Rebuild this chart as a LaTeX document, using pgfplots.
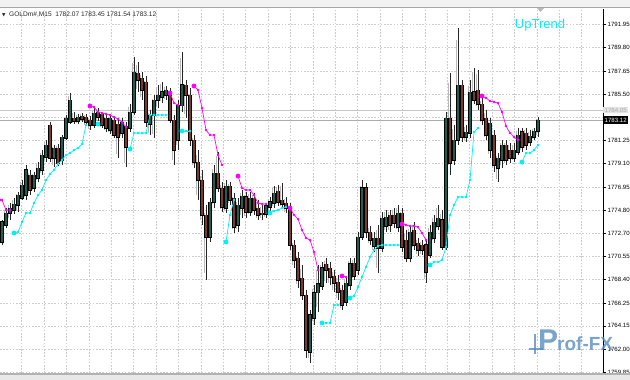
\documentclass[border=0pt]{standalone}
\usepackage{pgfplots}
\pgfplotsset{compat=1.18}
\usepackage{pgfplotstable}
\usepackage{fontspec}
\setmainfont{Liberation Sans}
\newfontfamily\dejavu{DejaVu Sans}
\definecolor{bull}{HTML}{1F5E50}
\definecolor{bear}{HTML}{7A3A30}
\definecolor{upc}{HTML}{00F0F8}
\definecolor{dnc}{HTML}{FF00FF}
\definecolor{logo}{HTML}{5B8CBD}

\pgfplotstableread{
x o h l c
0 1771.88 1773.91 1771.60 1773.72
1 1773.44 1775.01 1773.17 1774.55
2 1774.55 1775.47 1773.91 1775.01
3 1774.83 1775.93 1774.46 1775.38
4 1775.29 1776.49 1774.64 1776.21
5 1775.93 1777.59 1775.75 1777.13
6 1776.21 1778.98 1775.75 1778.52
7 1778.05 1778.52 1776.21 1776.67
8 1776.86 1778.33 1776.49 1778.05
9 1777.78 1779.25 1777.41 1778.70
10 1778.52 1780.36 1778.05 1779.90
11 1779.71 1781.28 1779.25 1780.82
12 1782.66 1782.94 1779.25 1779.62
13 1779.62 1780.82 1778.79 1780.54
14 1780.54 1780.91 1778.88 1779.16
15 1779.44 1781.74 1778.98 1781.56
16 1781.47 1783.59 1781.28 1783.31
17 1782.94 1785.62 1782.76 1784.97
18 1783.31 1783.86 1782.76 1783.03
19 1783.03 1783.68 1782.76 1783.40
20 1783.49 1783.77 1782.94 1783.22
21 1783.40 1783.68 1782.57 1782.94
22 1783.13 1783.49 1782.20 1782.66
23 1782.66 1784.23 1782.39 1783.77
24 1783.86 1784.23 1783.03 1783.40
25 1783.68 1783.86 1782.39 1782.66
26 1783.31 1783.59 1782.02 1782.39
27 1782.20 1783.59 1781.84 1783.31
28 1783.13 1783.40 1781.47 1781.74
29 1782.76 1783.13 1779.62 1781.56
30 1781.93 1783.31 1781.47 1782.94
31 1782.48 1782.94 1778.79 1780.64
32 1782.39 1784.60 1782.02 1783.86
33 1783.86 1788.93 1783.59 1787.55
34 1787.46 1788.47 1785.71 1786.81
35 1787.00 1787.55 1784.97 1785.89
36 1786.63 1787.18 1782.48 1782.94
37 1782.76 1784.05 1781.74 1783.59
38 1783.59 1785.43 1781.47 1784.97
39 1784.97 1786.35 1784.23 1785.43
40 1785.25 1786.63 1784.69 1785.71
41 1785.43 1786.26 1784.97 1785.89
42 1785.71 1786.08 1782.85 1783.13
43 1783.13 1783.59 1778.98 1780.36
44 1781.28 1784.97 1780.36 1784.51
45 1784.42 1789.40 1783.86 1786.35
46 1786.35 1786.81 1783.31 1785.43
47 1785.43 1786.08 1780.73 1781.28
48 1781.28 1781.74 1778.70 1779.25
49 1779.25 1780.36 1775.75 1777.59
50 1777.59 1778.52 1773.44 1774.37
51 1774.37 1775.29 1768.37 1772.34
52 1772.34 1775.93 1771.88 1775.57
53 1775.57 1778.98 1775.01 1778.24
54 1778.24 1780.18 1776.49 1776.86
55 1776.86 1777.41 1774.64 1775.10
56 1775.01 1777.59 1774.55 1777.04
57 1777.04 1777.41 1775.29 1775.75
58 1775.93 1776.40 1772.71 1773.26
59 1773.44 1775.93 1772.80 1775.29
60 1775.01 1776.67 1774.09 1776.12
61 1776.03 1776.49 1774.09 1774.64
62 1774.64 1776.49 1774.27 1775.93
63 1775.93 1776.40 1774.37 1774.83
64 1775.01 1775.75 1773.91 1774.37
65 1774.55 1775.29 1773.91 1774.46
66 1774.46 1775.47 1774.09 1775.20
67 1775.10 1776.03 1774.55 1775.57
68 1775.47 1777.04 1775.01 1776.40
69 1776.58 1777.13 1775.20 1775.57
70 1775.75 1777.32 1775.01 1775.38
71 1775.47 1776.03 1774.55 1775.01
72 1775.10 1775.47 1771.14 1771.60
73 1771.60 1772.06 1769.48 1770.22
74 1770.40 1770.96 1767.64 1768.37
75 1768.56 1769.76 1766.53 1766.99
76 1766.99 1767.45 1761.18 1761.92
77 1761.74 1765.61 1760.72 1765.15
78 1764.87 1767.91 1764.22 1767.18
79 1767.18 1769.76 1765.42 1768.01
80 1767.82 1770.03 1767.45 1769.48
81 1769.85 1770.40 1768.10 1769.30
82 1769.48 1770.03 1767.91 1768.65
83 1768.74 1769.30 1767.27 1768.10
84 1768.19 1768.83 1766.53 1767.27
85 1767.45 1767.91 1765.61 1766.07
86 1766.35 1768.74 1765.98 1768.10
87 1767.91 1770.40 1767.45 1769.85
88 1769.94 1770.40 1768.37 1768.74
89 1769.30 1772.80 1768.83 1772.34
90 1772.34 1777.59 1772.06 1776.86
91 1776.86 1777.32 1772.25 1772.80
92 1772.80 1773.35 1771.60 1772.06
93 1771.51 1772.80 1770.96 1772.25
94 1772.25 1773.44 1769.02 1771.32
95 1771.32 1774.64 1770.96 1774.09
96 1773.35 1774.83 1772.80 1774.18
97 1774.37 1774.83 1772.80 1773.44
98 1774.37 1775.01 1773.17 1773.63
99 1773.26 1775.29 1772.80 1774.55
100 1774.55 1775.01 1770.96 1771.42
101 1772.06 1772.98 1770.03 1770.40
102 1770.40 1773.44 1770.03 1772.80
103 1772.98 1773.72 1771.14 1771.60
104 1771.79 1772.25 1770.59 1771.14
105 1771.60 1772.06 1770.68 1771.14
106 1771.60 1772.06 1768.10 1769.11
107 1770.68 1773.44 1770.40 1772.80
108 1772.25 1774.37 1771.79 1773.72
109 1773.35 1775.29 1772.98 1774.09
110 1773.91 1774.83 1771.14 1771.42
111 1771.42 1783.86 1771.14 1783.31
112 1783.31 1787.46 1778.05 1779.16
113 1779.44 1782.66 1778.98 1781.28
114 1781.28 1791.61 1780.82 1786.35
115 1786.35 1786.81 1781.10 1781.56
116 1781.56 1782.66 1781.10 1782.02
117 1781.93 1786.81 1781.47 1785.71
118 1785.71 1787.92 1784.60 1784.97
119 1785.89 1787.74 1784.05 1784.60
120 1784.60 1785.15 1782.66 1783.13
121 1783.31 1784.05 1781.28 1781.74
122 1780.36 1783.31 1779.62 1782.85
123 1781.74 1782.20 1778.33 1778.98
124 1778.70 1780.08 1777.41 1779.62
125 1779.44 1781.28 1778.70 1780.82
126 1780.82 1781.28 1778.98 1779.44
127 1780.36 1781.01 1779.16 1779.62
128 1779.62 1781.01 1779.25 1780.36
129 1780.18 1782.39 1779.90 1781.74
130 1782.02 1782.39 1780.18 1780.64
131 1781.93 1782.39 1780.36 1780.82
132 1781.10 1782.20 1780.73 1781.65
133 1781.56 1782.39 1781.28 1782.11
134 1782.07 1783.45 1781.54 1783.12
}\candles

\begin{document}
\begin{tikzpicture}
\useasboundingbox (0,0) rectangle (630pt,-380pt);
\fill[gray!10] (0,0) rectangle (630pt,-7pt);
\draw[gray!70,line width=0.8pt] (0,-7.4pt) -- (630pt,-7.4pt);
\begin{axis}[
  at={(0pt,-8.5pt)}, anchor=north west,
  width=603pt, height=364.5pt, scale only axis,
  xmin=-0.5, xmax=150.25, ymin=1759.80, ymax=1793.41,
  axis x line*=bottom, axis y line*=right,
  x axis line style={draw=none},
  y axis line style={-, black, line width=0.9pt},
  xtick={4.925,10.525,...,150}, xticklabels={},
  x tick style={draw=none},
  ytick={1759.85,1762.00,1764.15,1766.25,1768.40,1770.55,1772.70,1774.80,1776.95,1779.10,1781.25,1783.40,1785.50,1787.65,1789.80,1791.95},
  yticklabels={1759.85,1762.00,1764.15,1766.25,1768.40,1770.55,1772.70,1774.80,1776.95,1779.10,1781.25,,1785.50,1787.65,1789.80,1791.95},
  y tick style={black, line width=0.6pt},
  tick align=outside, major tick length=3pt,
  yticklabel style={font=\fontsize{6.1}{7}\selectfont, inner sep=0pt, xshift=1.5pt, text=black},
  grid=major,
  major grid style={gray!40, dash pattern=on 1.6pt off 1.6pt, line width=0.6pt},
  clip mode=individual,
]
% ask / bid lines
\addplot[gray!45, line width=0.7pt, forget plot] coordinates {(-0.5,1784.05) (150.25,1784.05)};
\addplot[gray!65, line width=0.7pt, forget plot] coordinates {(-0.5,1783.12) (150.25,1783.12)};
% grey shadow of each bar
\addplot[draw=none, mark=none, forget plot, error bars/.cd, y dir=both, y explicit, error mark=none,
  error bar style={draw=gray!55, line width=1.6pt, solid}]
  table[x expr={\thisrow{x}-0.42}, y expr={(\thisrow{h}+\thisrow{l})/2}, y error expr={(\thisrow{h}-\thisrow{l})/2*0.8}] {\candles};
% wicks
\addplot[draw=none, mark=none, forget plot, error bars/.cd, y dir=both, y explicit, error mark=none,
  error bar style={draw=black!85, line width=0.9pt, solid}]
  table[x=x, y expr={(\thisrow{h}+\thisrow{l})/2}, y error expr={(\thisrow{h}-\thisrow{l})/2}] {\candles};
% bodies outline
\addplot[draw=none, mark=none, forget plot, error bars/.cd, y dir=both, y explicit, error mark=none,
  error bar style={draw=black, line width=3.2pt, solid}]
  table[x=x, y expr={(\thisrow{o}+\thisrow{c})/2}, y error expr={abs(\thisrow{c}-\thisrow{o})/2+0.05}] {\candles};
% bull bodies
\addplot[draw=none, mark=none, forget plot, x filter/.expression={\thisrow{c}>=\thisrow{o} ? x : nan},
  error bars/.cd, y dir=both, y explicit, error mark=none,
  error bar style={draw=bull, line width=2.0pt, solid}]
  table[x=x, y expr={(\thisrow{o}+\thisrow{c})/2}, y error expr={abs(\thisrow{c}-\thisrow{o})/2}] {\candles};
% bear bodies
\addplot[draw=none, mark=none, forget plot, x filter/.expression={\thisrow{c}<\thisrow{o} ? x : nan},
  error bars/.cd, y dir=both, y explicit, error mark=none,
  error bar style={draw=bear, line width=2.0pt, solid}]
  table[x=x, y expr={(\thisrow{o}+\thisrow{c})/2}, y error expr={abs(\thisrow{c}-\thisrow{o})/2}] {\candles};
% down-trend (magenta) line
\pgfplotsset{dn/.style={dnc, line width=0.7pt, mark=*, mark size=0.85pt, mark options={solid, fill=dnc, draw=dnc}, forget plot},
             up/.style={upc, line width=0.7pt, mark=*, mark size=0.85pt, mark options={solid, fill=upc, draw=upc}, forget plot}}
\addplot[dn] coordinates {(-0.5,1775.75)(0,1775.75)(1,1774.83)(2,1774.83)};
\addplot[dn] coordinates {(22,1784.42)(23,1784.32)(24,1783.86)(25,1783.77)(26,1783.68)(27,1783.59)(28,1783.40)(29,1783.22)(30,1782.94)(31,1782.48)};
\addplot[dn] coordinates {(42,1785.62)(43,1784.69)(44,1784.51)};
\addplot[dn] coordinates {(48,1786.26)(49,1785.89)(50,1784.23)(51,1782.20)(52,1781.74)(53,1781.74)(54,1779.90)(55,1778.98)};
\addplot[dn] coordinates {(59,1777.96)(60,1776.86)(61,1776.67)(62,1776.67)(63,1776.21)(64,1775.47)(65,1775.38)(66,1775.38)};
\addplot[dn] coordinates {(72,1775.01)(73,1774.37)(74,1774.00)(75,1772.98)(76,1772.25)(77,1772.06)(78,1770.96)(79,1769.30)};
\addplot[dn] coordinates {(85,1768.74)(86,1768.65)};
\addplot[dn] coordinates {(100,1773.54)(101,1773.44)(102,1773.35)(103,1773.35)(104,1773.26)(105,1772.71)(106,1772.06)};
\addplot[dn] coordinates {(120,1785.34)(121,1785.15)(122,1784.88)(123,1784.79)(124,1784.69)(125,1783.86)(126,1782.57)(127,1781.93)(128,1781.56)(129,1781.28)};
\addplot[only marks, mark=*, mark size=2.2pt, mark options={fill=dnc, draw=dnc}, forget plot]
  coordinates {(22,1784.42)(42,1785.62)(48,1786.26)(59,1777.96)(72,1775.01)(85,1768.74)(100,1773.54)(120,1785.34)};
% up-trend (cyan) line
\addplot[up] coordinates {(3,1772.71)(4,1772.80)(5,1773.72)(6,1774.55)(7,1774.55)(8,1775.47)(9,1776.21)(10,1776.67)(11,1777.59)(12,1778.15)(13,1778.52)(14,1779.07)(15,1779.44)(16,1779.90)(17,1780.08)(18,1780.36)(19,1780.54)(20,1780.91)(21,1782.66)};
\addplot[up] coordinates {(32,1780.45)(33,1781.93)(34,1781.93)(35,1781.93)(36,1781.93)(37,1783.59)(38,1783.59)(39,1783.59)(40,1783.59)(41,1783.59)};
\addplot[up] coordinates {(45,1782.11)(46,1782.11)(47,1782.11)};
\addplot[up] coordinates {(56,1771.88)(57,1774.37)(58,1775.75)};
\addplot[up] coordinates {(67,1774.55)(68,1774.74)(69,1774.83)(70,1775.01)(71,1775.10)};
\addplot[up] coordinates {(80,1764.41)(81,1764.41)(82,1764.41)(83,1766.07)(84,1766.07)};
\addplot[up] coordinates {(87,1766.71)(88,1766.90)(89,1767.73)(90,1768.65)(91,1769.57)(92,1770.49)(93,1771.14)(94,1771.51)(95,1771.60)(96,1771.60)(97,1771.60)(98,1771.60)(99,1771.60)};
\addplot[up] coordinates {(107,1769.76)(108,1770.03)(109,1770.03)(110,1770.22)(111,1771.42)(112,1774.37)(113,1775.29)(114,1776.03)(115,1776.03)(116,1776.03)(117,1777.59)(118,1782.02)(119,1782.39)};
\addplot[up] coordinates {(130,1779.25)(131,1780.08)(132,1780.08)(133,1780.36)(134,1780.82)};
\addplot[only marks, mark=*, mark size=2.2pt, mark options={fill=upc, draw=upc}, forget plot]
  coordinates {(3,1772.71)(24,1782.76)(32,1780.45)(45,1782.11)(56,1771.88)(67,1774.55)(80,1764.41)(87,1766.71)(107,1769.76)(130,1779.25)};
% price boxes on the scale
\node[anchor=west, fill=gray!20, text=gray!65, inner xsep=1.5pt, inner ysep=1.2pt, font=\fontsize{6.1}{7}\selectfont] at (axis cs:150.25,1784.05) {1784.05};
\node[anchor=west, fill=black, text=white, inner xsep=1.5pt, inner ysep=1.6pt, font=\fontsize{6.1}{7}\selectfont] at (axis cs:150.25,1783.12) {1783.12};
\end{axis}
% header
\node[anchor=west, inner sep=0pt, text=black!85] at (2pt,-15pt) {{\dejavu\fontsize{4.5}{5}\selectfont ▼}\hspace{3.5pt}\fontsize{6.6}{8}\selectfont GOLDm\#,M15\ \ 1782.07 1783.45 1781.54 1783.12};
% chart shift marker
\fill[gray!55] (537pt,-8pt) -- (544pt,-8pt) -- (540.5pt,-12pt) -- cycle;
% label
\node[text=upc, font=\fontsize{13}{15}\selectfont] at (540pt,-25pt) {UpTrend};
% watermark
\begin{scope}[opacity=0.8]
\fill[logo] (534pt,-334pt) rectangle (536pt,-354pt);
\fill[logo] (529pt,-348pt) rectangle (543pt,-350pt);
\node[anchor=south west, inner sep=0pt, text=logo, font=\bfseries\fontsize{30}{30}\selectfont] at (538pt,-351pt) {P};
\node[anchor=south west, inner sep=0pt, text=logo, font=\bfseries\fontsize{19}{19}\selectfont] at (557pt,-351pt) {rof-FX};
\end{scope}
% bottom frame
\fill[gray!60] (0,-373pt) rectangle (630pt,-375pt);
\fill[gray!18] (0,-375pt) rectangle (630pt,-380pt);
\end{tikzpicture}
\end{document}
